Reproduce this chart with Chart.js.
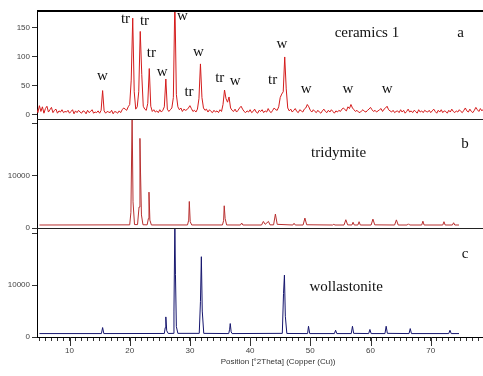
<!DOCTYPE html>
<html><head><meta charset="utf-8">
<script src="https://cdn.jsdelivr.net/npm/chart.js@4/dist/chart.umd.min.js"></script>
<style>
html,body{margin:0;padding:0;background:#fff;overflow:hidden;width:483px;height:376px}
#wrap{position:absolute;left:0;top:0;width:520px;height:376px}
</style></head><body>
<div id="wrap"><canvas id="c" width="520" height="376" style="width:520px;height:376px"></canvas></div>
<script>
// ---- data ----
const ceramicStart = 4.5, ceramicStep = 0.25;   // 2Theta of first sample, spacing
const ceramicCounts = [
 12,4,16,6,14,3,11,15,5,9,13,4,8,10,3,7,5,9,4,6,
 5,8,3,6,9,2,7,4,8,5,3,7,6,2,8,4,6,9,3,5,
 4,7,3,8,42,7,3,6,5,4,8,2,6,5,3,7,4,9,12,10,
 8,14,18,60,167,40,10,14,40,144,70,15,10,8,20,80,15,6,9,5,
 7,4,9,5,8,14,62,10,6,9,12,30,200,35,14,9,12,6,10,8,
 9,12,16,11,6,8,5,10,28,88,30,12,8,10,5,9,6,4,8,5,
 7,4,9,6,18,43,28,22,31,12,8,6,10,5,8,12,15,10,6,4,
 7,5,9,4,6,10,5,3,8,6,9,4,7,5,11,6,4,8,12,9,
 8,14,30,36,40,100,45,12,7,10,5,8,11,6,4,9,7,5,10,12,
 18,14,8,5,9,6,4,8,5,3,7,10,6,4,8,5,9,6,3,7,
 5,8,6,10,12,9,7,14,11,18,12,9,6,8,5,4,7,9,6,5,
 8,10,13,9,6,8,5,7,9,11,6,10,12,15,9,7,5,8,4,6,
 7,4,9,5,8,3,6,10,5,7,4,8,6,3,9,5,7,4,8,6,
 5,8,4,7,10,6,3,8,5,9,4,7,6,3,8,5,10,6,4,7,
 5,9,6,4,8,12,7,5,10,6,4,8,13,9,6,11,7,10,8,12
];
const tridymite = [
 [5.0,570],
 [20.0,600],[20.2,3000],[20.4,21500],[20.55,5000],[20.8,650],
 [21.3,650],[21.55,4000],[21.7,17100],[21.8,10500],[21.95,2500],[22.2,620],
 [22.9,600],[23.1,1800],[23.2,6840],[23.35,1500],[23.6,580],
 [29.6,580],[29.8,1500],[29.9,5060],[30.05,1200],[30.3,580],
 [35.4,580],[35.6,1400],[35.7,4240],[35.85,1800],[36.1,580],
 [38.4,570],[38.6,950],[38.8,570],
 [41.9,570],[42.2,1250],[42.5,700],[43.05,1250],[43.3,600],
 [43.9,600],[44.2,2660],[44.5,700],
 [47.1,570],[47.3,900],[47.5,570],
 [48.8,570],[49.1,1900],[49.4,620],
 [53.7,570],[53.9,700],[54.1,570],
 [55.6,570],[55.9,1580],[56.2,600],
 [56.9,570],[57.1,1100],[57.3,570],[57.9,570],[58.1,1200],[58.3,570],
 [60.1,570],[60.4,1700],[60.7,600],
 [64.0,570],[64.3,1550],[64.6,570],
 [66.1,570],[66.3,800],[66.5,570],
 [68.5,570],[68.7,1300],[68.9,570],
 [72.0,570],[72.2,1200],[72.4,570],
 [73.6,570],[73.8,1000],[74.0,570],
 [74.7,570]
];
const wollastonite = [
 [5.0,660],
 [15.3,660],[15.5,1820],[15.7,660],
 [25.75,680],[25.9,1800],[26.0,3870],[26.15,1200],[26.4,680],
 [27.2,700],[27.35,5000],[27.5,22000],[27.6,12000],[27.75,2000],[28.0,700],
 [31.55,700],[31.75,6800],[31.9,15470],[32.05,5000],[32.3,700],
 [36.45,660],[36.6,1500],[36.7,2590],[36.85,1000],[37.0,660],
 [45.35,700],[45.55,8400],[45.7,11930],[45.85,4000],[46.1,680],
 [49.55,660],[49.7,2070],[49.9,660],
 [54.0,660],[54.2,1300],[54.4,660],
 [56.8,660],[57.0,2070],[57.2,700],
 [59.7,660],[59.9,1450],[60.1,660],
 [62.4,660],[62.6,2070],[62.8,700],
 [66.4,660],[66.6,1620],[66.8,660],
 [73.0,660],[73.2,1300],[73.4,660],
 [74.7,660]
];
const ceramicTicks = [0,50,100,150];
const ceramicTickLabels = ['0','50','100','150'];
const refTicks = [0,10000,20000];
const refTickLabels = ['0','10000',''];
const xMajorTicks = [10,20,30,40,50,60,70,80];
const xMinorTicks = [5,6,7,8,9,10,11,12,13,14,15,16,17,18,19,20,21,22,23,24,25,26,27,28,29,30,
 31,32,33,34,35,36,37,38,39,40,41,42,43,44,45,46,47,48,49,50,51,52,53,54,55,56,57,58,59,60,
 61,62,63,64,65,66,67,68,69,70,71,72,73,74,75,76,77,78,79,80,81,82,83,84];
const xTitle = 'Position [°2Theta] (Copper (Cu))';

// text annotations: [text, 2Theta, intensity, axis]
const peakLabels = [
 ['w',15.45,67,'ya'],['tr',19.3,165,'ya'],['tr',22.45,162,'ya'],['tr',23.6,106,'ya'],
 ['w',25.4,74,'ya'],['w',28.75,171,'ya'],['tr',29.85,39,'ya'],['w',31.4,108,'ya'],
 ['tr',34.95,64,'ya'],['w',37.5,58,'ya'],['tr',43.75,60,'ya'],['w',45.3,122,'ya'],
 ['w',49.3,44,'ya'],['w',56.25,44,'ya'],['w',62.75,44,'ya']
];
const panelLabels = [
 ['ceramics 1',59.4,141,'ya'],['a',74.95,141,'ya'],
 ['tridymite',54.7,14300,'yb'],['b',75.7,16100,'yb'],
 ['wollastonite',55.95,9650,'yc'],['c',75.7,16000,'yc']
];

// ---- chart ----
Chart.defaults.font.family = '"Liberation Sans", Arial, sans-serif';
Chart.defaults.font.size = 8;

const ceramicPoints = ceramicCounts.map((y,i)=>({x: ceramicStart + i*ceramicStep, y}));
const toXY = arr => arr.map(p=>({x:p[0], y:p[1]}));

function yPanel(min, max, ticks, labels){
  return {
    type:'linear', position:'left', stack:'panels', stackWeight:1, min, max,
    afterFit(s){ s.width = 37; },
    afterBuildTicks(s){ s.ticks = ticks.map(v=>({value:v})); },
    ticks:{ callback:(v,i)=>labels[i], color:'#444', padding:2, font:{size:8} },
    grid:{ drawOnChartArea:false, drawTicks:true, tickLength:5, color:'#333' },
    border:{ display:true, color:'#000', width:1 }
  };
}

const panelClip = {
  id:'panelClip',
  beforeDatasetDraw(chart, args){
    const ys = args.meta.yScale, a = chart.chartArea, ctx = chart.ctx;
    ctx.save(); ctx.beginPath();
    ctx.rect(a.left, ys.top, a.right - a.left, ys.bottom - ys.top);
    ctx.clip();
  },
  afterDatasetDraw(chart){ chart.ctx.restore(); }
};

const decor = {
  id:'decor',
  afterDraw(chart){
    const ctx = chart.ctx, a = chart.chartArea, s = chart.scales;
    ctx.save();
    ctx.strokeStyle = '#000';
    ctx.lineWidth = 2;
    ctx.beginPath(); ctx.moveTo(a.left, s.ya.top + 1); ctx.lineTo(a.right, s.ya.top + 1); ctx.stroke();
    ctx.lineWidth = 1; ctx.strokeStyle = '#222';
    [s.ya.bottom, s.yb.bottom].forEach(y=>{
      const yy = Math.round(y) + 0.5;
      ctx.beginPath(); ctx.moveTo(a.left, yy); ctx.lineTo(a.right, yy); ctx.stroke();
    });
    ctx.strokeStyle = '#333';
    xMajorTicks.forEach(v=>{
      const px = Math.round(s.x.getPixelForValue(v)) + 0.5;
      ctx.beginPath(); ctx.moveTo(px, a.bottom); ctx.lineTo(px, a.bottom + 9); ctx.stroke();
    });
    ctx.fillStyle = '#111';
    ctx.textAlign = 'center'; ctx.textBaseline = 'middle';
    ctx.font = '15px "Liberation Serif", "Times New Roman", serif';
    peakLabels.concat(panelLabels).forEach(([t,x,y,ax])=>{
      ctx.fillText(t, s.x.getPixelForValue(x), s[ax].getPixelForValue(y));
    });
    ctx.restore();
  }
};

new Chart(document.getElementById('c'), {
  type:'line',
  data:{ datasets:[
    { label:'ceramics 1', data: ceramicPoints, yAxisID:'ya', borderColor:'#d41c1c', borderWidth:1, pointRadius:0, tension:0 },
    { label:'tridymite', data: toXY(tridymite), yAxisID:'yb', borderColor:'#b83030', borderWidth:1, pointRadius:0, tension:0 },
    { label:'wollastonite', data: toXY(wollastonite), yAxisID:'yc', borderColor:'#16166e', borderWidth:1, pointRadius:0, tension:0 }
  ]},
  options:{
    responsive:false, animation:false,
    layout:{ autoPadding:false, padding:{ left:0, top:10, right:0, bottom:9 } },
    plugins:{ legend:{display:false}, tooltip:{enabled:false} },
    scales:{
      x:{
        type:'linear', position:'bottom', min:4.6, max:84.7,
        afterFit(s){ s.height = 30; },
        afterBuildTicks(s){ s.ticks = xMinorTicks.map(v=>({value:v})); },
        ticks:{ autoSkip:false, maxRotation:0, color:'#444', padding:5, font:{size:8},
          callback:(v)=> xMajorTicks.includes(v) ? String(v) : '' },
        grid:{ drawOnChartArea:false, drawTicks:true, tickLength:4, color:'#333' },
        border:{ display:true, color:'#000', width:1 },
        title:{ display:true, text:xTitle, color:'#333', font:{size:8}, padding:0 }
      },
      yc: yPanel(0, 21000, refTicks, refTickLabels),
      yb: yPanel(0, 20800, refTicks, refTickLabels),
      ya: yPanel(-7, 181, ceramicTicks, ceramicTickLabels)
    }
  },
  plugins:[panelClip, decor]
});
</script>
</body></html>
